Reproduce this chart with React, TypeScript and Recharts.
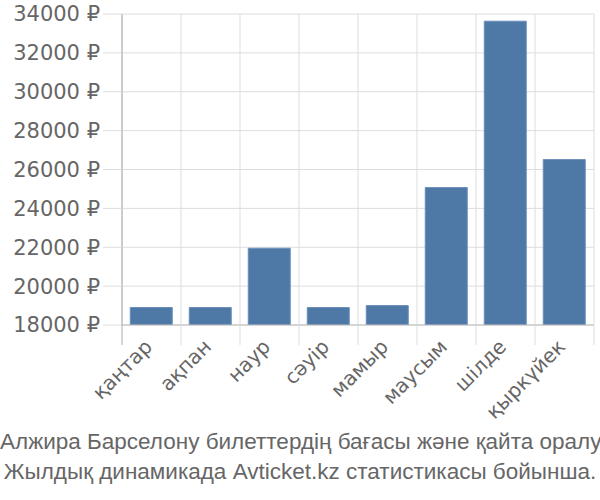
import React from 'react';
import { BarChart, Bar, XAxis, YAxis, CartesianGrid } from 'recharts';

const MONTHS = ['қаңтар', 'ақпан', 'наур', 'сәуір', 'мамыр', 'маусым', 'шілде', 'қыркүйек'];
const PRICES = [18900, 18900, 21950, 18900, 19000, 25070, 33630, 26510];
const Y_TICKS = [18000, 20000, 22000, 24000, 26000, 28000, 30000, 32000, 34000];
const BOUNDARIES = [0, 1, 2, 3, 4, 5, 6, 7, 8];
const TITLE_LINES = [
  'Алжира Барселону билеттердің бағасы және қайта оралу',
  'Жылдық динамикада Avticket.kz статистикасы бойынша.',
];

const data = MONTHS.map((m, i) => ({ month: m, price: PRICES[i], pos: i + 0.5 }));

const MonthTick = (props: any) => {
  const { x, y, payload, index } = props;
  const half = payload && payload.offset ? payload.offset : 29.5;
  const ty = y + 23;
  const isLast = index === MONTHS.length - 1;
  return (
    <g>
      <line x1={x - half} x2={x - half} y1={y} y2={y + 20} stroke={index === 0 ? '#aaa' : '#ddd'} />
      {isLast && <line x1={x + half} x2={x + half} y1={y} y2={y + 20} stroke="#ddd" />}
      <text
        x={x + 2}
        y={ty}
        transform={`rotate(-45 ${x + 2} ${ty})`}
        textAnchor="end"
        fill="#666"
        fontSize={20}
        fontFamily="'DejaVu Sans', sans-serif"
      >
        {payload.value}
      </text>
    </g>
  );
};

const App: React.FC = () => {
  return (
    <div style={{ position: 'absolute', left: 0, top: 0, width: 600, height: 500, background: '#fff' }}>
      <BarChart
        width={600}
        height={420}
        data={data}
        margin={{ top: 14, right: 6, left: 0, bottom: 0 }}
        barCategoryGap="14%"
      >
        <CartesianGrid stroke="#ddd" xAxisId="grid" />
        <XAxis
          xAxisId="grid"
          type="number"
          dataKey="pos"
          domain={[0, 8]}
          ticks={BOUNDARIES}
          hide
        />
        <XAxis
          dataKey="month"
          height={95}
          tickLine={false}
          tickSize={0}
          tickMargin={0}
          tick={<MonthTick />}
          axisLine={{ stroke: '#bbb' }}
          interval={0}
        />
        <YAxis
          domain={[18000, 34000]}
          ticks={Y_TICKS}
          width={122}
          tickSize={19}
          tickMargin={3}
          tickLine={{ stroke: '#ddd' }}
          axisLine={{ stroke: '#aaa' }}
          tickFormatter={(v: number) => `${v} ₽`}
          tick={{ fill: '#666', fontSize: 21, fontFamily: "'DejaVu Sans', sans-serif" }}
          allowDataOverflow
        />
        <Bar dataKey="price" fill="#4e79a7" stroke="#6b8fba" strokeWidth={1} isAnimationActive={false} />
      </BarChart>
      <div
        style={{
          textAlign: 'center',
          color: '#666',
          fontSize: 22.5,
          lineHeight: '30px',
          fontFamily: "'Liberation Sans Narrow', 'Liberation Sans', Arial, sans-serif",
          marginTop: 7,
          whiteSpace: 'nowrap',
        }}
      >
        {TITLE_LINES.map((l) => (
          <div key={l}>{l}</div>
        ))}
      </div>
    </div>
  );
};

export default App;
